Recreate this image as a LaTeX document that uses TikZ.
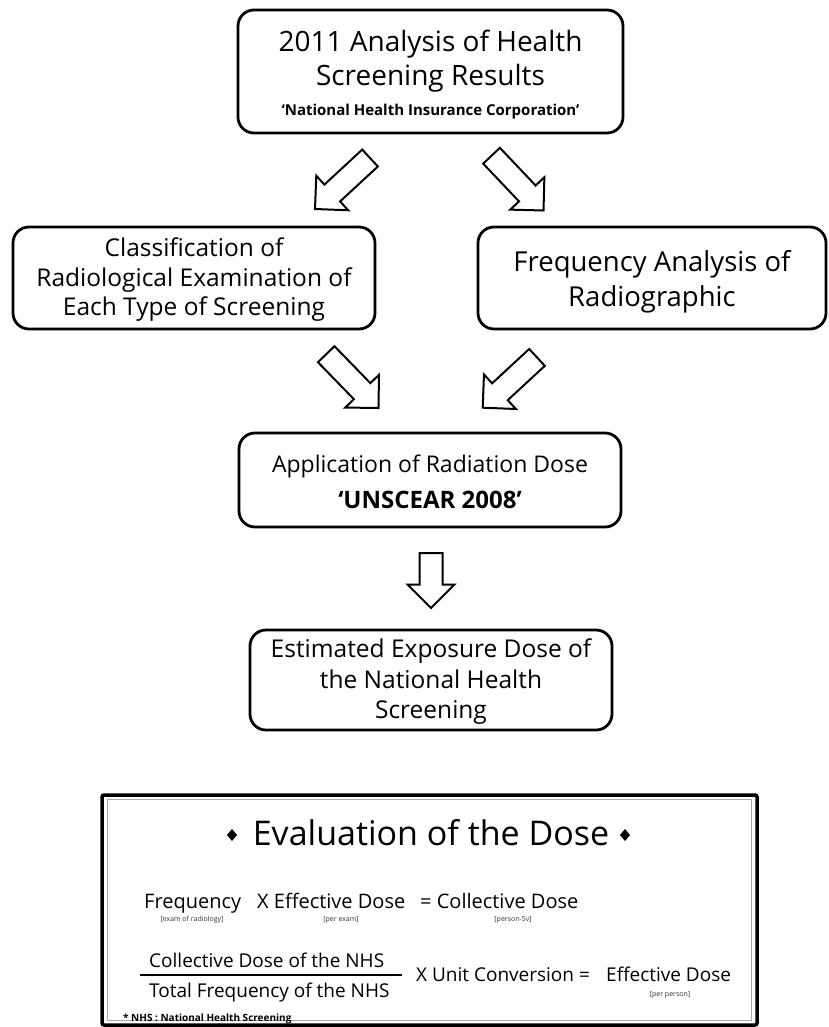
\documentclass[tikz,border=0pt]{standalone}
\usepackage{fontspec}
\setmainfont{Open Sans}
\usetikzlibrary{calc}
\newcommand{\blockarr}[4]{%
  % #1 tip coordinate, #2 angle, #3 length, #4 name of tail coordinate
  \begin{scope}[shift={(#1)},rotate=#2]
    \draw[blockarrow] (-#3,-11.5)--(-23.5,-11.5)--(-23.5,-23.5)--(0,0)--(-23.5,23.5)--(-23.5,11.5)--(-#3,11.5)--cycle;
    \coordinate (#4) at (-#3,0);
  \end{scope}}
\begin{document}
\begin{tikzpicture}[x=1pt,y=-1pt,
  flowbox/.style={draw=black, line width=2.8pt, rounded corners=16pt, align=center, inner sep=0pt, text=black},
  blockarrow/.style={draw=black, line width=2pt, fill=white, line join=miter},
  ftxt/.style={inner sep=0pt, anchor=base west, text=black},
  small/.style={inner sep=0pt, anchor=base, font=\fontsize{7}{8}\selectfont, text=black!80}]
\useasboundingbox (0,0) rectangle (829,1027);

% flow boxes
\node[flowbox, minimum width=385pt, minimum height=123pt, font=\fontsize{28}{34}\selectfont] (b1) at (430.5,71.5)
  {\rule{0pt}{27.5pt}2011 Analysis of Health\\ Screening Results\\[-4.5pt]
   {\fontsize{15}{34}\selectfont\bfseries ‘National Health Insurance Corporation’}};
\node[flowbox, minimum width=362pt, minimum height=102pt, font=\fontsize{24.5}{29.5}\selectfont] (b2) at (194,278)
  {\rule{0pt}{22pt}Classification of\\ Radiological Examination of\\ Each Type of Screening};
\node[flowbox, minimum width=348pt, minimum height=102pt, font=\fontsize{27.5}{35}\selectfont] (b3) at (652,278)
  {\rule{0pt}{29pt}Frequency Analysis of\\ Radiographic};
\node[flowbox, minimum width=382pt, minimum height=94pt, font=\fontsize{23}{36}\selectfont] (b4) at (430,480)
  {\rule{0pt}{21.5pt}Application of Radiation Dose\\
   {\fontsize{24}{36}\selectfont\bfseries ‘UNSCEAR 2008’}};
\node[flowbox, minimum width=362pt, minimum height=100pt, font=\fontsize{24.5}{30.5}\selectfont] (b5) at (431,680)
  {\rule{0pt}{22pt}Estimated Exposure Dose of\\ the National Health\\ Screening};

% block arrows
\coordinate (a1tip) at (315,209);
\coordinate (a2tip) at (543.5,210.5);
\coordinate (a3tip) at (378.5,408);
\coordinate (a4tip) at (482.7,407.7);
\coordinate (a5tip) at (431,608);
\blockarr{a1tip}{222.8}{75}{a1tail}
\blockarr{a2tip}{-46.5}{75.5}{a2tail}
\blockarr{a3tip}{-45.8}{75}{a3tail}
\blockarr{a4tip}{222.8}{74}{a4tail}
\blockarr{a5tip}{-90}{55}{a5tail}

% evaluation box
\draw[black, line width=3.5pt, rounded corners=2pt] (102,795) rectangle (757,1025);
\draw[gray!70, line width=1.5pt] (107.5,799.5) rectangle (751.5,1020.5);

\node[inner sep=0pt, anchor=base, font=\fontsize{34}{40}\selectfont] (title) at (431,845) {Evaluation of the Dose};
\fill[black] (232,829) -- (237,835) -- (232,841) -- (227,835) -- cycle;
\fill[black] (625,829) -- (630,835) -- (625,841) -- (620,835) -- cycle;

\node[ftxt, font=\fontsize{20}{24}\selectfont] (freq) at (144,908) {Frequency};
\node[ftxt, font=\fontsize{20}{24}\selectfont] (effd) at (257,908) {X Effective Dose};
\node[ftxt, font=\fontsize{20}{24}\selectfont] (colld) at (420,908) {= Collective Dose};
\node[small] (s1) at (192,921) {[exam of radiology]};
\node[small] (s2) at (341,921) {[per exam]};
\node[small] (s3) at (513,921) {[person-Sv]};

\node[ftxt, font=\fontsize{19}{23}\selectfont] (num) at (149,967) {Collective Dose of the NHS};
\node[ftxt, font=\fontsize{19}{23}\selectfont] (den) at (149,997) {Total Frequency of the NHS};
\draw[black, line width=2pt] (140,974.5) -- (402,974.5);
\node[ftxt, font=\fontsize{19}{23}\selectfont] (unit) at (416,981) {X Unit Conversion =};
\node[ftxt, font=\fontsize{19}{23}\selectfont] (eff2) at (606,981) {Effective Dose};
\node[small] (s4) at (670,996) {[per person]};
\node[ftxt, font=\fontsize{10}{12}\selectfont\bfseries] (foot) at (123,1021) {* NHS : National Health Screening};
\end{tikzpicture}
\end{document}
